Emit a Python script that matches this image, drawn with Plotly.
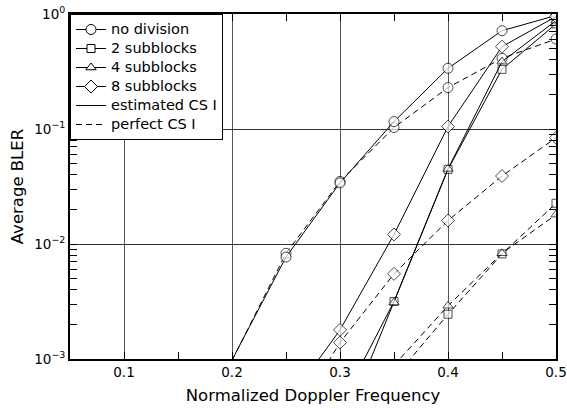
import plotly.graph_objects as go

doppler = [0.20, 0.25, 0.30, 0.35, 0.40, 0.45, 0.50]

nodiv_est = [0.00098, 0.0077, 0.034, 0.116, 0.337, 0.716, 0.97]
nodiv_perf = [0.00097, 0.0083, 0.035, 0.103, 0.229, 0.412, 0.606]
sub2_est = [None, None, 0.00039, 0.00316, 0.0446, 0.33, 0.82]
sub2_perf = [None, None, None, 0.00068, 0.00245, 0.0082, 0.0226]
sub4_est = [None, None, 0.00022, 0.0031, 0.045, 0.385, 0.875]
sub4_perf = [None, None, None, 0.00088, 0.0029, 0.0083, 0.018]
sub8_est = [None, 0.0004, 0.00179, 0.0121, 0.105, 0.52, 0.95]
sub8_perf = [None, 0.00024, 0.00139, 0.0055, 0.016, 0.039, 0.084]

y_tickvals = [0.001, 0.01, 0.1, 1]
y_ticktext = ["10<sup>−3</sup>", "10<sup>−2</sup>", "10<sup>−1</sup>", "10<sup>0</sup>"]
x_tickvals = [0.1, 0.2, 0.3, 0.4, 0.5]
x_ticktext = ["0.1", "0.2", "0.3", "0.4", "0.5"]

YMIN = 0.001
FONT = "DejaVu Sans, Liberation Sans, Arial, sans-serif"

series = [
    ("no division", nodiv_est, nodiv_perf, "circle", 10),
    ("2 subblocks", sub2_est, sub2_perf, "square", 8),
    ("4 subblocks", sub4_est, sub4_perf, "triangle-up", 9),
    ("8 subblocks", sub8_est, sub8_perf, "diamond", 10),
]

fig = go.Figure()

def sizes(vals, s):
    return [0 if (v is None or v < YMIN) else s for v in vals]

def legname(t):
    return '<span style="font-size:14.5px">' + t + '</span>'

for name, est, perf, sym, ms in series:
    for vals, dash in ((perf, "6px,4px"), (est, "solid")):
        fig.add_trace(go.Scatter(
            x=doppler, y=vals, mode="lines+markers", showlegend=False,
            line=dict(color="black", width=1, dash=dash),
            marker=dict(symbol=sym, size=sizes(vals, ms),
                        color="white", line=dict(color="black", width=1)),
        ))

# legend entries
for name, est, perf, sym, ms in series:
    fig.add_trace(go.Scatter(
        x=[None], y=[None], mode="lines+markers", name=legname(name),
        line=dict(color="black", width=1),
        marker=dict(symbol=sym, size=ms, color="white",
                    line=dict(color="black", width=1)),
    ))
fig.add_trace(go.Scatter(x=[None], y=[None], mode="lines", name=legname("estimated CS I"),
                         line=dict(color="black", width=1)))
fig.add_trace(go.Scatter(x=[None], y=[None], mode="lines", name=legname("perfect CS I"),
                         line=dict(color="black", width=1, dash="6px,4px")))

fig.update_layout(
    width=567, height=408,
    margin=dict(l=70, r=11, t=14, b=49, autoexpand=False),
    paper_bgcolor="white", plot_bgcolor="white",
    font=dict(family=FONT, color="black", size=14),
    legend=dict(x=0, y=1, xanchor="left", yanchor="top",
                bgcolor="white", bordercolor="black", borderwidth=1,
                font=dict(size=12), tracegroupgap=0, itemwidth=30),
    xaxis=dict(
        range=[0.05, 0.5], tickvals=x_tickvals, ticktext=x_ticktext,
        showline=True, linecolor="black", linewidth=2, mirror="ticks",
        ticks="inside", ticklen=0, tickcolor="black",
        showgrid=True, gridcolor="#555555", gridwidth=1, zeroline=False,
        minor=dict(dtick=0.05, ticks="inside", ticklen=7, tickcolor="black", showgrid=False),
        title=dict(text="Normalized Doppler Frequency", font=dict(size=16.5), standoff=10),
        tickfont=dict(size=13.5),
    ),
    yaxis=dict(
        type="log", range=[-3, 0], tickvals=y_tickvals, ticktext=y_ticktext,
        showline=True, linecolor="black", linewidth=2, mirror="ticks",
        ticks="inside", ticklen=0, tickcolor="black",
        showgrid=True, gridcolor="#333333", gridwidth=1, zeroline=False,
        minor=dict(dtick="D1", ticks="inside", ticklen=7, tickcolor="black", showgrid=False),
        title=dict(text="Average BLER", font=dict(size=16.5), standoff=6),
        tickfont=dict(size=13.5),
    ),
)

fig.write_html("out.html")
